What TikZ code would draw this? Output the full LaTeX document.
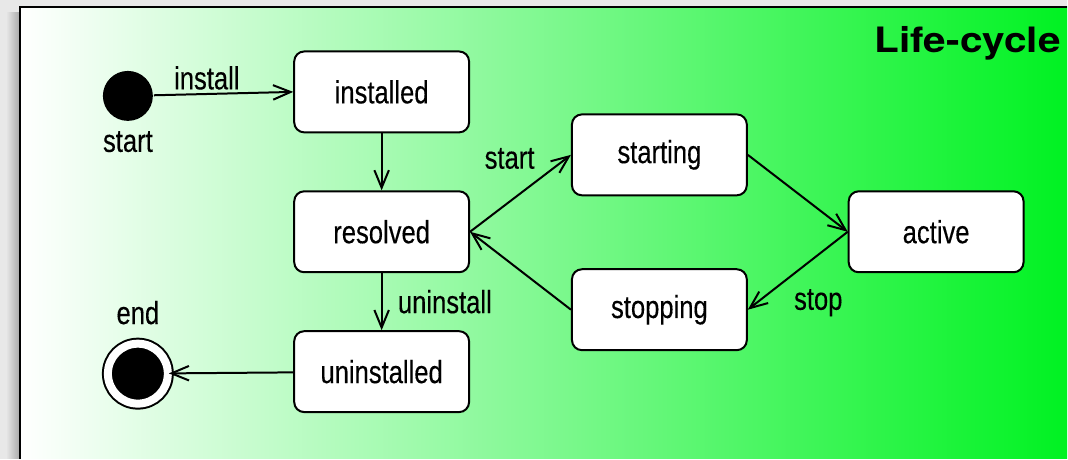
\documentclass[tikz,border=0pt]{standalone}
\usepackage{fontspec}
\setmainfont{Liberation Sans}[FakeStretch=0.8,FakeBold=0.3]
\newfontfamily\titlefont{TeX Gyre Heros}[FakeStretch=1.16]
\usepackage{tikz}
\usetikzlibrary{arrows.meta}
\usetikzlibrary{positioning}
\definecolor{lifegreen}{RGB}{0,242,34}

\begin{document}
\begin{tikzpicture}[x=1pt,y=1pt,>={Straight Barb[angle=45:19pt]},line width=2pt,node distance=140pt,font=\fontsize{32}{38}\selectfont,
  state node/.style={rectangle,rounded corners=10pt,draw,fill=white,minimum width=175pt,minimum height=81pt}]

  % frame and background
  \fill[gray!18] (0,0) rectangle (1068,459);
  \shade[left color=gray!18,right color=gray!65,draw=none] (6,0) rectangle (19,446);
  \shade[left color=white,right color=lifegreen,draw=none] (20,0) rectangle (1068,452);
  \draw (20,0) -- (20,452) -- (1068,452);
  \useasboundingbox (0,0) rectangle (1068,459);

  \node[anchor=base east,font=\titlefont\bfseries\fontsize{35}{40}\selectfont] (title) at (1066,406) {Life-cycle};

  \node[state node] (installed) at (382,367) {installed};
  \node[state node] (resolved) [below of=installed] {resolved};
  \node[state node] (uninstalled) [below of=resolved] {uninstalled};
  \node[state node] (starting) at (660,304) {starting};
  \node[state node] (stopping) at (660,149) {stopping};
  \node[state node] (active) at (937,227) {active};

  \node[circle,fill=black,minimum size=50pt,label={[label distance=5pt]below:start}] (start) at (128,363) {};
  \node[circle,draw,fill=black,double=white,double distance=8pt,inner sep=0pt,minimum size=60pt,label={[label distance=14pt]above:end}] (end) at (138,85) {};

  \path[->]
    (start) edge node[above,pos=0.38] {install} (installed.west)
    (installed) edge (resolved)
    (resolved.east) edge node[above left,pos=0.76,xshift=-8pt] {start} (starting.west)
    (starting.east) edge (active.west)
    (active.west) edge node[below right,pos=0.68,xshift=10pt] {stop} (stopping.east)
    (stopping.west) edge (resolved.east)
    (resolved) edge node[right=12pt] {uninstall} (uninstalled)
    (uninstalled) edge (end);

\end{tikzpicture}
\end{document}
